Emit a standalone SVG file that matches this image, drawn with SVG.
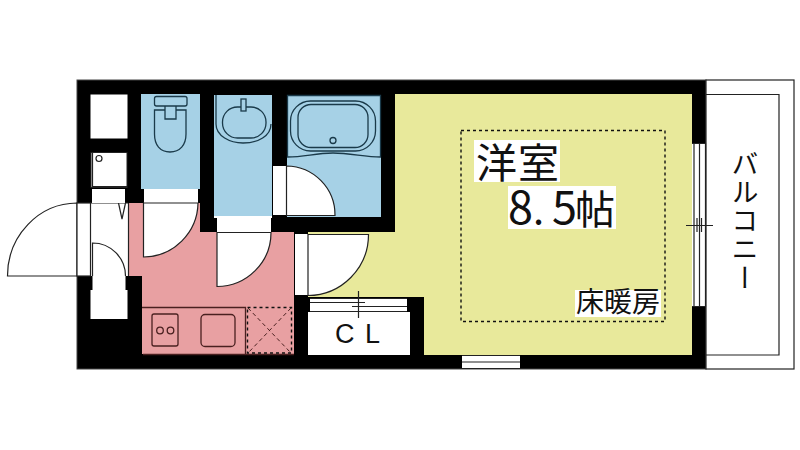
<svg xmlns="http://www.w3.org/2000/svg" width="800" height="450" viewBox="0 0 800 450">
<style>
.w{fill:#fff}
.l{fill:none;stroke:#222;stroke-width:1.2}
.f{fill:#fff;stroke:#222;stroke-width:1.2}
.t{stroke:#1a3a4a;fill:none;stroke-width:1.3}
.k{stroke:#4a2020;fill:none;stroke-width:1.3}
.d{fill:none;stroke:#111;stroke-width:1.4;stroke-dasharray:3 3}
.j{font-family:"Noto Sans CJK JP","Noto Sans",sans-serif;fill:#111}
.a{font-family:"Liberation Sans",sans-serif;fill:#111;font-size:27px}
</style>
<rect width="800" height="450" fill="#fff"/>
<g id="walls">
<rect x="77" y="80" width="629" height="289" fill="#000"/>
<rect x="77" y="80" width="629" height="289" fill="none" stroke="#444" stroke-width="1"/>
</g>
<g id="balcony">
<rect x="706" y="80" width="88" height="289" class="f"/>
<path d="M706 94.500H779V355H706" class="l"/>
</g>
<g id="room">
<path d="M395 94H692V355H424V297H308V232H395Z" fill="#e8e99b"/>
<rect x="461" y="130.500" width="204" height="191" class="d"/>
<rect x="474" y="140" width="86" height="42" class="w"/>
<rect x="508" y="186" width="108" height="43" class="w"/>
<rect x="575" y="290" width="86" height="27" class="w"/>
</g>
<g id="kitchen">
<path d="M128 203H200V232H294V354H142V276H128Z" fill="#e8a0a2"/>
<path d="M142 307.500H245.500V354M143 354.500H294" class="k"/>
<rect x="152" y="314" width="26" height="32" rx="2" class="k"/>
<circle cx="160" cy="330.500" r="3.300" class="k"/>
<circle cx="170.500" cy="330.500" r="3.300" class="k"/>
<rect x="201" y="314.500" width="34" height="32" rx="4" class="k"/>
<rect x="247.500" y="307.500" width="44" height="45.500" class="d" stroke-width="1.2"/>
<path d="M248 308L291 353M291 308L248 353" fill="none" stroke="#4a2020" stroke-width="1" stroke-dasharray="4 3"/>
</g>
<g id="toilet">
<rect x="141" y="94" width="59" height="95" fill="#a6d1e6"/>
<rect x="154.500" y="96.500" width="32.500" height="9.500" rx="2" class="t"/>
<path d="M165 106V110M176 106V110M154.500 110H165V119H176V110H186V134C186 145 180 152 170 152C160 152 154.500 145 154.500 134Z" class="t"/>
<rect x="144" y="189" width="54" height="14" class="w"/>
</g>
<g id="washroom">
<rect x="214" y="95" width="58" height="121" fill="#a6d1e6"/>
<path d="M216 95V124C216 136 230 143 243 143C258 143 271 136 271 124" class="t"/>
<rect x="222.500" y="107" width="43.500" height="31" rx="15" class="t"/>
<rect x="241" y="99" width="5" height="12" class="t" style="fill:#a6d1e6"/>
<rect x="214" y="216" width="58" height="2" class="w"/>
<rect x="217" y="218" width="54" height="14" class="w"/>
</g>
<g id="bath">
<rect x="287" y="95" width="94" height="122" fill="#a6d1e6"/>
<rect x="290.500" y="101" width="85" height="50" rx="20" class="t"/>
<rect x="298" y="104.500" width="70" height="43" rx="13" class="t"/>
<path d="M287.500 95.500H380.500V157C365 157 350 153 333 153C315 153 305 157 287.500 157Z" class="t" stroke-width="1"/>
<circle cx="333" cy="140.500" r="3" class="t"/>
</g>
<g id="doors">
<rect x="273" y="166" width="13" height="49" class="w"/>
<path d="M286.500 215.500V166A49 49 0 0 1 335 215.500Z" class="f"/>
<path d="M143.500 203H198A55 55 0 0 1 143.500 257Z" class="f"/>
<path d="M217 232.500H271A54 54 0 0 1 217 286.500Z" class="f"/>
<rect x="295" y="234" width="13" height="61" class="w"/>
<path d="M308 234.500H368.500A61 61 0 0 1 308 295.500Z" class="f"/>
</g>
<g id="entrance">
<rect x="90" y="203" width="38" height="73" class="w"/>
<path d="M128.500 203V276M90.500 203H128" class="l"/>
<path d="M77 203A70 73 0 0 0 7.500 276H77Z" class="f"/>
<rect x="77" y="203" width="13.500" height="73" class="f"/>
<path d="M92.500 276V243A33 33 0 0 1 125.500 276" class="l"/>
<path d="M118.500 203L122 219L125.500 203" class="l"/>
</g>
<g id="storage">
<rect x="90.500" y="94.500" width="37" height="44" class="w"/>
<rect x="91" y="152.500" width="36" height="35" class="w" stroke="#222"/>
<path d="M92.500 152.500V186.500H127" class="l"/>
<circle cx="99" cy="158.500" r="3" class="l"/>
<rect x="92" y="189" width="33" height="14" class="w"/>
<rect x="92.500" y="276" width="33" height="14" class="w"/>
<rect x="90.500" y="290" width="37" height="29" class="w"/>
</g>
<g id="closet">
<rect x="308" y="312" width="102" height="43" class="w"/>
<rect x="310" y="298" width="97" height="14" class="w"/>
<path d="M310 298.500H407M310 302.500H365M352 306.500H407M310 311.500H407M358.500 291V318" class="l"/>
</g>
<g id="windows">
<rect x="692" y="143" width="14" height="164" class="w"/>
<path d="M694 143V307M699.500 143V307M705.500 143V307M692 143.500H706M692 306.500H706M686 225.500H713M697 218V232M701.500 218V232" class="l"/>
<rect x="462" y="355" width="58" height="14" class="w"/>
<path d="M462 355.500H520M462 362H520M462 368.500H520" class="l"/>
</g>
<g id="labels">
<text x="476" y="178" class="j" font-size="41" letter-spacing="1">洋室</text>
<text class="j" y="224" font-size="45"><tspan x="508">8</tspan><tspan x="533" font-size="40">.</tspan><tspan x="552">5</tspan><tspan x="575" font-size="40">帖</tspan></text>
<text x="576" y="312" class="j" font-size="28">床暖房</text>
<text x="335" y="343" class="a">C</text>
<text x="365" y="343" class="a">L</text>
<text x="745" y="150" class="j" font-size="27" letter-spacing="1.500" writing-mode="vertical-rl">バルコニー</text>
</g>
</svg>
